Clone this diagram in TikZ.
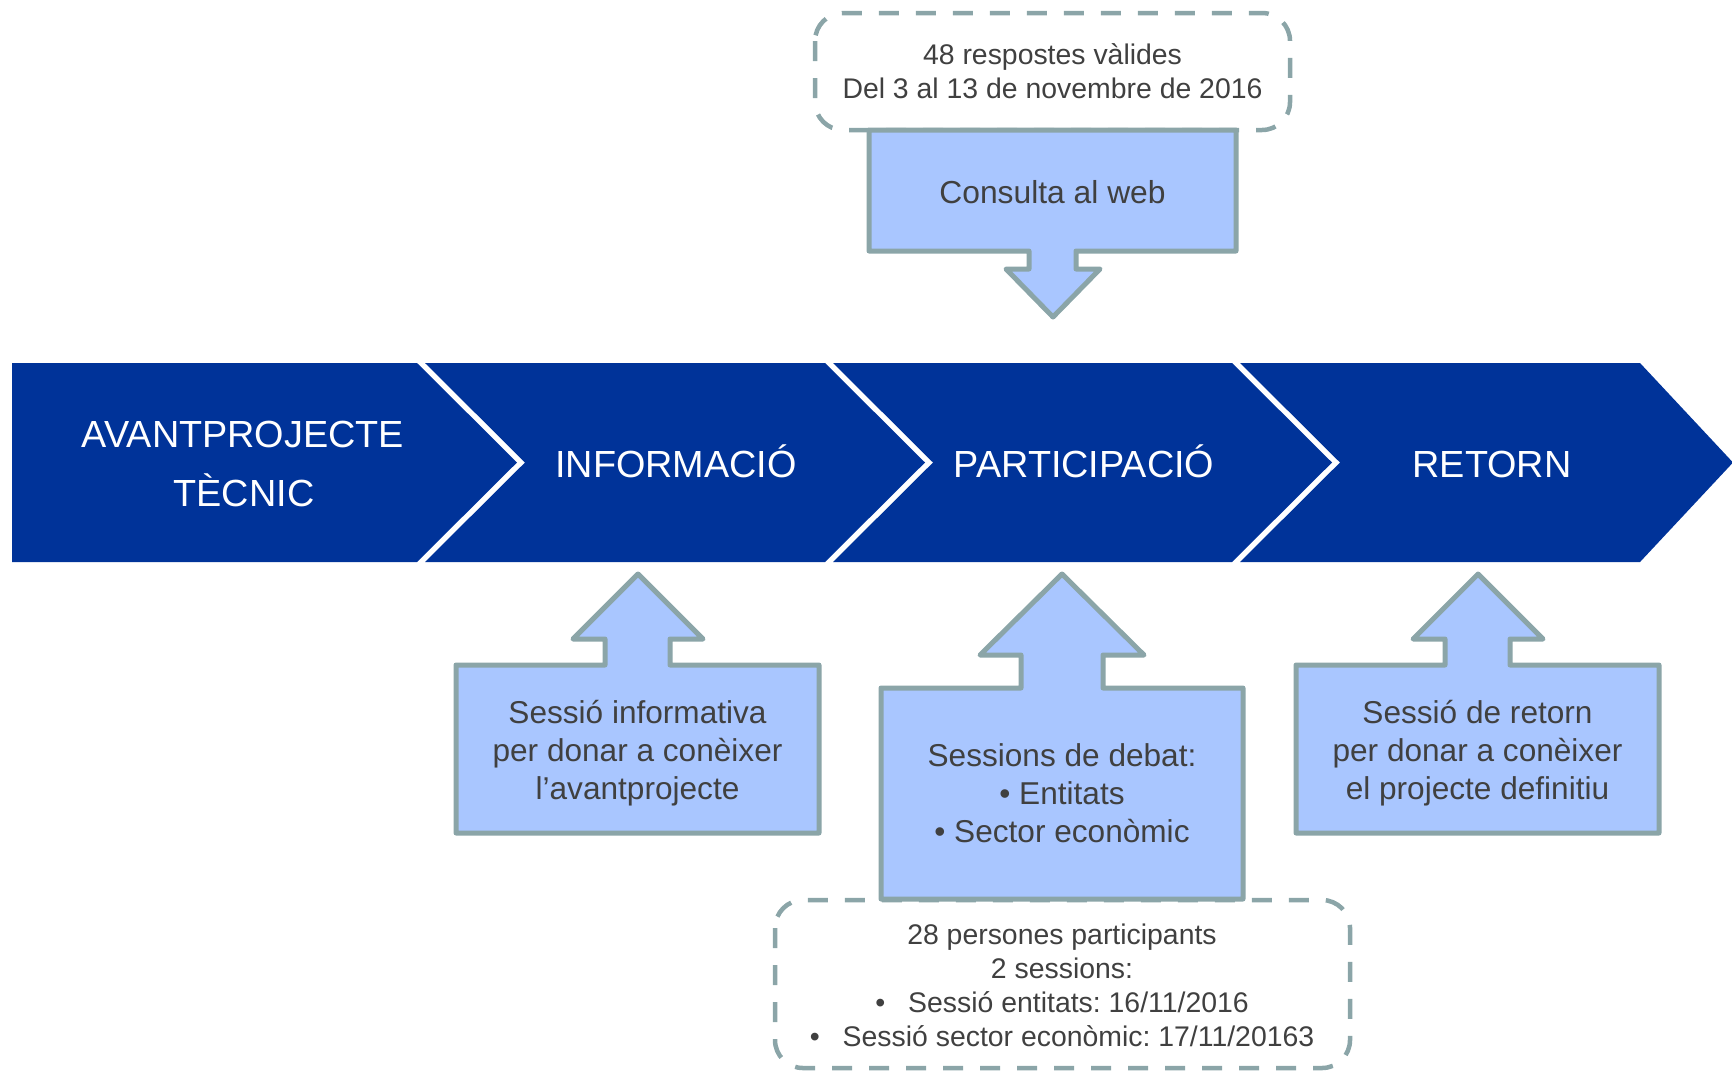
\documentclass[tikz,border=0pt]{standalone}
\usepackage{fontspec}
\setmainfont{Liberation Sans}
\frenchspacing
\definecolor{barblue}{RGB}{0,51,153}
\definecolor{boxfill}{RGB}{169,198,255}
\definecolor{boxline}{RGB}{139,165,168}
\definecolor{txtgrey}{RGB}{64,64,64}
\newcommand\fsChev{\fontsize{18.9}{22}\selectfont}
\newcommand\fsBox{\fontsize{15.8}{19}\selectfont}
\newcommand\fsCons{\fontsize{15.9}{19}\selectfont}
\newcommand\fsSmall{\fontsize{14.2}{17}\selectfont}
\tikzset{
  chevbar/.style={fill=barblue, draw=none},
  chevtxt/.style={anchor=base, inner sep=0pt, text=white, font=\fsChev},
  callout/.style={fill=boxfill, draw=boxline, line width=2.5pt, line join=round},
  dashbox/.style={draw=boxline, line width=2.25pt, dash pattern=on 10pt off 8.5pt, rounded corners=14pt},
  boxtxt/.style={anchor=base, inner sep=0pt, text=txtgrey, font=\fsBox},
  constxt/.style={anchor=base, inner sep=0pt, text=txtgrey, font=\fsCons},
  smalltxt/.style={anchor=base, inner sep=0pt, text=txtgrey, font=\fsSmall}
}
\begin{document}
\begin{tikzpicture}[x=0.5pt,y=-0.5pt]
\useasboundingbox (0,0) rectangle (1732,1072);
% chevron bar
\path[chevbar] (12,363) -- (417,363) -- (517,462.5) -- (417,562) -- (12,562) -- cycle;
\path[chevbar] (425,363) -- (825,363) -- (925,462.5) -- (825,562) -- (425,562) -- (525,462.5) -- cycle;
\path[chevbar] (833,363) -- (1232,363) -- (1332,462.5) -- (1232,562) -- (833,562) -- (933,462.5) -- cycle;
\path[chevbar] (1240,363) -- (1640,363) -- (1733,462.5) -- (1640,562) -- (1240,562) -- (1340,462.5) -- cycle;
\node[chevtxt] (avant1) at (243,447) {AVANTPROJECTE};
\node[chevtxt] (avant2) at (244,506) {TÈCNIC};
\node[chevtxt] (info) at (676,477) {INFORMACIÓ};
\node[chevtxt] (part) at (1084,477) {PARTICIPACIÓ};
\node[chevtxt] (ret) at (1492,477) {RETORN};
% top dashed box and consulta callout
\draw[dashbox] (815,13) rectangle (1290,130);
\node[smalltxt] (top1) at (1052.5,64) {48 respostes vàlides};
\node[smalltxt] (top2) at (1052.5,98) {Del 3 al 13 de novembre de 2016};
\draw[callout] (869,130) -- (1236,130) -- (1236,251) -- (1076,251) -- (1076,269) -- (1100,269) -- (1053,317) -- (1006,269) -- (1029,269) -- (1029,251) -- (869,251) -- cycle;
\node[constxt] (cons) at (1052.5,203) {Consulta al web};
% informacio callout
\draw[callout] (456,665) -- (605,665) -- (605,639) -- (573,639) -- (638,574) -- (703,639) -- (670,639) -- (670,665) -- (819,665) -- (819,833) -- (456,833) -- cycle;
\node[boxtxt] (inf1) at (637.5,723) {Sessió informativa};
\node[boxtxt] (inf2) at (637.5,761) {per donar a conèixer};
\node[boxtxt] (inf3) at (637.5,799) {l’avantprojecte};
% participacio callout
\draw[callout] (881,688) -- (1021,688) -- (1021,655) -- (980,655) -- (1062,574) -- (1144,655) -- (1103,655) -- (1103,688) -- (1243,688) -- (1243,899) -- (881,899) -- cycle;
\node[boxtxt] (par1) at (1062,766) {Sessions de debat:};
\node[boxtxt] (par2) at (1062,804) {• Entitats};
\node[boxtxt] (par3) at (1062,842) {• Sector econòmic};
% retorn callout
\draw[callout] (1296,665) -- (1445,665) -- (1445,639) -- (1413,639) -- (1478,574) -- (1543,639) -- (1510,639) -- (1510,665) -- (1659,665) -- (1659,833) -- (1296,833) -- cycle;
\node[boxtxt] (ret1) at (1477.5,723) {Sessió de retorn};
\node[boxtxt] (ret2) at (1477.5,761) {per donar a conèixer};
\node[boxtxt] (ret3) at (1477.5,799) {el projecte definitiu};
% bottom dashed box
\draw[dashbox] (775,900) rectangle (1350,1068);
\node[smalltxt] (bot1) at (1062,944) {28 persones participants};
\node[smalltxt] (bot2) at (1062,978) {2 sessions:};
\node[smalltxt] (bot3) at (1062,1012) {•\hspace{11.5pt}Sessió entitats: 16/11/2016};
\node[smalltxt] (bot4) at (1062,1046) {•\hspace{11.5pt}Sessió sector econòmic: 17/11/20163};
\end{tikzpicture}
\end{document}
